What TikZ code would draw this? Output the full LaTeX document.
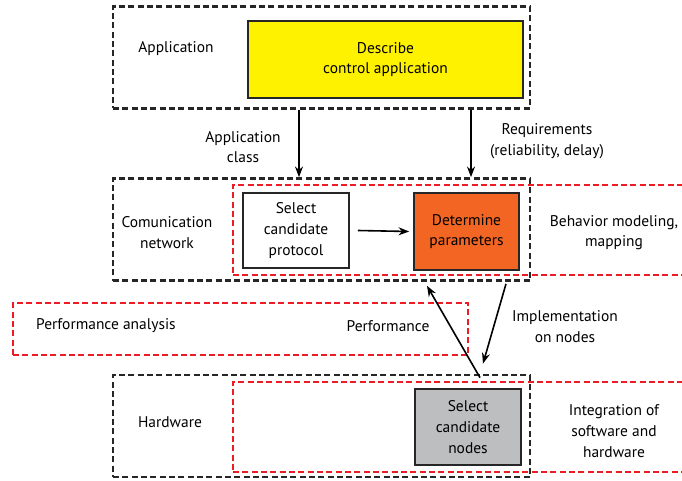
\documentclass[tikz,border=0pt]{standalone}
\usepackage{fontspec}
\setmainfont{PT Sans}
\usetikzlibrary{arrows.meta}
\definecolor{appyellow}{RGB}{255,242,0}
\definecolor{paramorange}{RGB}{242,101,34}
\definecolor{nodegray}{RGB}{188,190,192}
\definecolor{dashred}{RGB}{237,28,36}
\tikzset{
  layer/.style={draw=black!85,line width=2pt,dash pattern=on 4.5pt off 2.5pt,inner sep=0pt},
  view/.style={draw=dashred,line width=2pt,dash pattern=on 4.5pt off 2.5pt,inner sep=0pt},
  task/.style={draw=black!85,line width=1.2pt,align=center,inner sep=0pt},
  lbl/.style={align=center,inner sep=0pt},
  flow/.style={-{Stealth[length=8pt,width=6pt]},line width=1.2pt}
}
\begin{document}
\begin{tikzpicture}[x=0.75pt,y=-0.75pt,font=\fontsize{11.6}{15.5}\selectfont]
\useasboundingbox (0,0) rectangle (682,481);
\clip (0,0) rectangle (682,481);
% layers
\node[layer,minimum width=417*0.75pt,minimum height=102*0.75pt] (app) at (321.5,57.5) {};
\node[layer,minimum width=417*0.75pt,minimum height=102*0.75pt] (comm) at (321.5,229.5) {};
\node[layer,minimum width=417*0.75pt,minimum height=102*0.75pt] (hw) at (321.5,426) {};
% red views
\node[view,minimum width=460*0.75pt,minimum height=90*0.75pt] (behav) at (463,230) {};
\node[view,minimum width=455*0.75pt,minimum height=52*0.75pt] (perf) at (240.5,329) {};
\node[view,minimum width=460*0.75pt,minimum height=90*0.75pt] (integ) at (463,427) {};
% tasks
\node[task,fill=appyellow,minimum width=275*0.75pt,minimum height=77*0.75pt] (desc) at (385.5,59.5) {Describe\\control application};
\node[task,fill=white,minimum width=106*0.75pt,minimum height=75*0.75pt] (prot) at (296,230.5) {Select\\candidate\\protocol};
\node[task,fill=paramorange,minimum width=105*0.75pt,minimum height=77*0.75pt] (param) at (466.5,231.5) {Determine\\parameters};
\node[task,fill=nodegray,minimum width=106*0.75pt,minimum height=76*0.75pt] (cand) at (468,427) {Select\\candidate\\nodes};
% texts
\node[lbl] (tapp) at (176,49) {Application};
\node[lbl] (tcomm) at (167,232.5) {Comunication\\network};
\node[lbl] (thw) at (170,422) {Hardware};
\node[lbl] (tbehav) at (614,232.5) {Behavior modeling,\\mapping};
\node[lbl] (tinteg) at (614,431) {Integration of\\software and\\hardware};
\node[lbl] (tpa) at (106,326) {Performance analysis};
\node[lbl] (tperf) at (388,326) {Performance};
\node[lbl] (tclass) at (243,147) {Application\\class};
\node[lbl] (treq) at (547,141.5) {Requirements\\(reliability, delay)};
\node[lbl] (timpl) at (565,326.5) {Implementation\\on nodes};
% connectors
\coordinate (c1) at (299,0);
\coordinate (c2) at (471,0);
\draw[flow] (app.south -| c1) -- (comm.north -| c1);
\draw[flow] (app.south -| c2) -- (comm.north -| c2);
\draw[flow] (prot.east) ++(8,0) coordinate (p1) -- ([xshift=-4*0.75pt]param.west);
\coordinate (i1) at (506,0);
\coordinate (i2) at (483,0);
\coordinate (f1) at (480,0);
\coordinate (f2) at (427,0);
\draw[flow] ([yshift=-1.5]comm.south -| i1) -- ([yshift=10*0.75pt]hw.north -| i2);
\draw[flow] ([yshift=-4*0.75pt]hw.north -| f1) -- ([yshift=-4*0.75pt]comm.south -| f2);
\end{tikzpicture}
\end{document}
